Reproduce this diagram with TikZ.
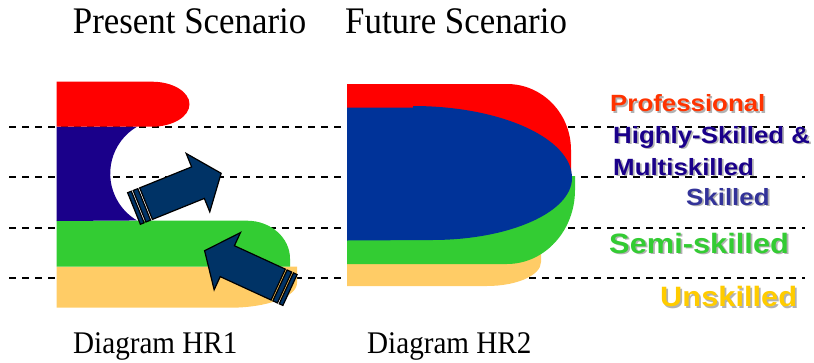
\documentclass[tikz,border=0pt]{standalone}
\usepackage{fontspec}
\setmainfont{Liberation Serif}
\newfontfamily\arialfont{Liberation Sans}
\usepackage{tikz}

\definecolor{rot}{RGB}{255,0,0}
\definecolor{hsblau}{RGB}{26,0,138}
\definecolor{dblau}{RGB}{0,51,153}
\definecolor{gruen}{RGB}{51,204,51}
\definecolor{hellorange}{RGB}{255,204,102}
\definecolor{pfeilblau}{RGB}{0,51,102}
\definecolor{profrot}{RGB}{255,51,0}
\definecolor{skblau}{RGB}{51,51,153}
\definecolor{gelb}{RGB}{255,204,0}

% Text mit grauem Schatten
\newcommand{\schatten}[1]{\makebox[0pt][l]{\hspace{1.6pt}\raisebox{-1.6pt}{\textcolor{black!30}{#1}}}#1}

\tikzset{
	titel/.style={anchor=base west, inner sep=0pt, font=\fontsize{37.5}{40}\selectfont, xscale=0.93},
	unterschrift/.style={anchor=base west, inner sep=0pt, font=\fontsize{31.5}{34}\selectfont, xscale=0.925},
	stufe/.style={anchor=base west, inner sep=0pt, font=\arialfont\bfseries\fontsize{23.5}{26}\selectfont, xscale=1.1},
	grossstufe/.style={stufe, font=\arialfont\bfseries\fontsize{28}{30}\selectfont},
	linie/.style={dash pattern=on 6.7pt off 6.3pt, line width=1.7pt},
	pfeilstil/.style={fill=pfeilblau, draw=black, line width=1.2pt, line join=miter},
}

% gestreifter Pfeil: Position, Winkel
\newcommand{\hrpfeil}[2]{%
	\begin{scope}[shift={#1}, rotate=#2]
		\filldraw[pfeilstil] (0,-17) rectangle (4,17);
		\filldraw[pfeilstil] (6,-17) rectangle (11,17);
		\filldraw[pfeilstil] (13,-17) -- (69,-17) -- (69,-31.5) -- (94,0) -- (69,31.5) -- (69,17) -- (13,17) -- cycle;
	\end{scope}}

\begin{document}
\begin{tikzpicture}[x=1pt, y=-1pt]
	\useasboundingbox (0,0) rectangle (814,362);
	\foreach \y in {127.3,176.7,227.7,278.3}
		\draw[linie] (9,\y) -- (805,\y);

	% Present Scenario
	\fill[hellorange] (56.5,266.7) -- (297,266.7) -- (297,283) arc[start angle=0, end angle=90, x radius=67, y radius=24.7] -- (56.5,307.7) -- cycle;
	\fill[gruen] (56.5,220.7) -- (247,220.7) arc[start angle=270, end angle=360, x radius=43, y radius=38] -- (290,266.7) -- (56.5,266.7) -- cycle;
	\fill[hsblau] (56.5,126.7) -- (137,126.7) arc[start angle=239.5, end angle=120.5, radius=54.4] -- (56.5,221) -- cycle;
	\fill[rot] (56.5,81.7) -- (152,81.7) arc[start angle=270, end angle=450, x radius=37.5, y radius=22.5] -- (56.5,126.7) -- cycle;
	\hrpfeil{(134,208.5)}{22}
	\hrpfeil{(290,290)}{155.3}

	% Future Scenario
	\fill[hellorange] (347,250) -- (541,250) -- (541,262) arc[start angle=0, end angle=90, x radius=54, y radius=24] -- (347,286) -- cycle;
	\fill[gruen] (347,176) -- (575,176) -- (575,190) arc[start angle=0, end angle=90, x radius=68, y radius=74] -- (347,264) -- cycle;
	\fill[rot] (347,84) -- (507,84) arc[start angle=270, end angle=360, x radius=64, y radius=66] -- (571,185) -- (347,185) -- cycle;
	\fill[dblau] (347,107.7) -- (413,107.7) -- (413,106) arc[start angle=270, end angle=360, x radius=159, y radius=72] arc[start angle=0, end angle=90, x radius=140, y radius=62] -- (347,240.5) -- cycle;

	\node[titel] (present) at (72.7,33.3) {Present Scenario};
	\node[titel] (future) at (345,33.3) {Future Scenario};
	\node[unterschrift] (hr1) at (73,353.3) {Diagram HR1};
	\node[unterschrift] (hr2) at (367,353.3) {Diagram HR2};

	\node[stufe, text=profrot] (prof) at (610,111.5) {\schatten{Professional}};
	\node[stufe, text=hsblau] (hs) at (613,143.3) {\schatten{Highly-Skilled \&}};
	\node[stufe, text=hsblau] (multi) at (613,175) {\schatten{Multiskilled}};
	\node[stufe, text=skblau] (skilled) at (686,205) {\schatten{Skilled}};
	\node[grossstufe, text=gruen] (semi) at (609,253.3) {\schatten{Semi-skilled}};
	\node[grossstufe, text=gelb] (unskilled) at (660,306.7) {\schatten{Unskilled}};
\end{tikzpicture}
\end{document}
